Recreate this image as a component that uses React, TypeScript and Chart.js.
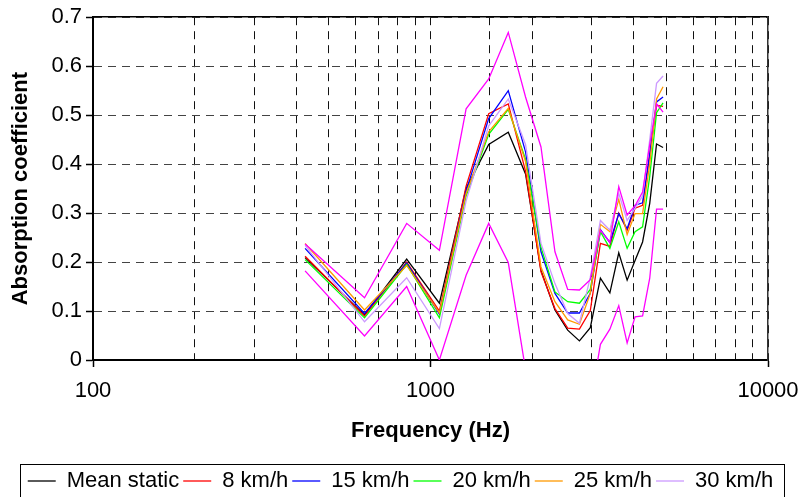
import React, { useEffect, useRef } from 'react';
import { Chart, registerables } from 'chart.js';

Chart.register(...registerables);

const FONT = 'Liberation Sans, Arial, Helvetica, sans-serif';

const frequencies = [425, 637.5, 850, 1062.5, 1275, 1487.5, 1700, 1912.5, 2125, 2337.5, 2550, 2762.5, 2975, 3187.5, 3400, 3612.5, 3825, 4037.5, 4250, 4462.5, 4675, 4887.5];

const meanStatic = [0.209, 0.092, 0.206, 0.116, 0.35, 0.44, 0.465, 0.38, 0.183, 0.102, 0.061, 0.039, 0.066, 0.167, 0.137, 0.219, 0.163, 0.203, 0.241, 0.32, 0.441, 0.434];
const kmh8 = [0.212, 0.09, 0.2, 0.1, 0.355, 0.503, 0.523, 0.385, 0.18, 0.105, 0.065, 0.063, 0.101, 0.238, 0.232, 0.3, 0.265, 0.31, 0.316, 0.42, 0.52, 0.518];
const kmh15 = [0.228, 0.095, 0.198, 0.094, 0.345, 0.493, 0.55, 0.425, 0.221, 0.136, 0.096, 0.096, 0.136, 0.266, 0.24, 0.299, 0.268, 0.316, 0.321, 0.42, 0.527, 0.537];
const kmh20 = [0.205, 0.086, 0.195, 0.086, 0.335, 0.461, 0.512, 0.41, 0.23, 0.139, 0.119, 0.116, 0.144, 0.262, 0.228, 0.282, 0.228, 0.262, 0.272, 0.375, 0.505, 0.525];
const kmh25 = [0.238, 0.102, 0.193, 0.096, 0.34, 0.466, 0.514, 0.405, 0.19, 0.119, 0.082, 0.073, 0.136, 0.277, 0.262, 0.328, 0.256, 0.299, 0.299, 0.4, 0.533, 0.558];
const kmh30 = [0.234, 0.078, 0.168, 0.064, 0.325, 0.478, 0.533, 0.44, 0.238, 0.156, 0.095, 0.075, 0.169, 0.285, 0.265, 0.34, 0.285, 0.31, 0.335, 0.45, 0.565, 0.58];
const upperBound = [0.237, 0.127, 0.279, 0.224, 0.513, 0.574, 0.669, 0.537, 0.435, 0.221, 0.144, 0.143, 0.164, 0.265, 0.24, 0.354, 0.296, 0.315, 0.343, 0.44, 0.523, 0.506];
const lowerBound = [0.182, 0.049, 0.15, 0.0, 0.173, 0.279, 0.199, -0.02, -0.1, -0.15, -0.15, -0.13, -0.09, 0.032, 0.063, 0.111, 0.035, 0.088, 0.09, 0.167, 0.308, 0.308];

const seriesNames = ['Mean static', '8 km/h', '15 km/h', '20 km/h', '25 km/h', '30 km/h', 'Upper', 'Lower'];
const seriesValues = [meanStatic, kmh8, kmh15, kmh20, kmh25, kmh30, upperBound, lowerBound];
const seriesColors = ['#000000', '#FF0000', '#0000FF', '#00FF00', '#FF9900', '#CC99FF', '#FF00FF', '#FF00FF'];

const xLabelTicks = [100, 1000, 10000];
const yMin = 0;
const yMax = 0.7;
const yStep = 0.1;

const legendBox = {
  id: 'legendBox',
  afterDraw(chart: any) {
    const lg = chart.legend;
    if (!lg || !lg.legendHitBoxes || !lg.legendHitBoxes.length) return;
    const hb = lg.legendHitBoxes;
    let l = Infinity;
    let r = -Infinity;
    hb.forEach((h: any) => {
      l = Math.min(l, h.left);
      r = Math.max(r, h.left + h.width);
    });
    const ctx = chart.ctx;
    ctx.save();
    ctx.strokeStyle = '#000';
    ctx.lineWidth = 1;
    ctx.strokeRect(Math.round(l - 8) + 0.5, Math.round(lg.top - 2) + 0.5, Math.round(r - l + 18), 40);
    ctx.restore();
  },
};

export default function App() {
  const ref = useRef<HTMLCanvasElement | null>(null);
  useEffect(() => {
    if (!ref.current) return;
    Chart.defaults.font.family = FONT;
    Chart.defaults.color = '#000';
    const datasets = seriesNames.map((name, i) => ({
      label: name,
      data: frequencies.map((f, j) => ({ x: f, y: seriesValues[i][j] })),
      borderColor: seriesColors[i],
      backgroundColor: seriesColors[i],
      borderWidth: 1.3,
      pointRadius: 0,
      pointHoverRadius: 0,
      tension: 0,
      fill: false,
      order: seriesNames.length - 1 - i,
      xAxisID: 'x',
      yAxisID: 'y',
    }));
    const isLabel = (v: number) => xLabelTicks.includes(v);
    const chart = new Chart(ref.current, {
      type: 'line',
      data: { datasets },
      plugins: [legendBox],
      options: {
        animation: false,
        responsive: false,
        events: [],
        layout: { autoPadding: false, padding: { left: 0, right: 0, top: 0, bottom: -5 } },
        plugins: {
          tooltip: { enabled: false },
          legend: {
            position: 'bottom',
            labels: {
              usePointStyle: true,
              pointStyle: 'line',
              pointStyleWidth: 28,
              padding: 4,
              color: '#000',
              font: { size: 22, family: FONT },
              filter: (item: any) => item.datasetIndex < 6,
              sort: (a: any, b: any) => a.datasetIndex - b.datasetIndex,
            },
          },
        },
        scales: {
          x: {
            type: 'logarithmic',
            position: 'bottom',
            min: 100,
            max: 10000,
            afterFit: (s: any) => { s.height = 106; },
            ticks: {
              autoSkip: false,
              maxRotation: 0,
              padding: 1,
              color: '#000',
              font: { size: 22, family: FONT, lineHeight: 2.1 },
              callback: (v: any) => (isLabel(Number(v)) ? String(v) : ''),
            },
            grid: {
              color: '#111',
              lineWidth: 1,
              drawTicks: true,
              tickLength: 7,
              tickWidth: 1.5,
              tickColor: (c: any) => (c.tick && isLabel(c.tick.value) ? '#000' : 'rgba(0,0,0,0)'),
              tickBorderDash: [],
            },
            border: { display: true, color: '#000', width: 2, dash: [8, 6] },
            title: {
              display: true,
              text: 'Frequency (Hz)',
              color: '#000',
              font: { size: 22, weight: 'bold', family: FONT },
              padding: { top: 0, bottom: 22 },
            },
          },
          xTop: {
            type: 'linear',
            position: 'top',
            afterFit: (s: any) => { s.height = 17; },
            ticks: { display: false },
            grid: { display: true, drawOnChartArea: false, drawTicks: false },
            border: { display: true, color: '#000', width: 1.5 },
          },
          y: {
            type: 'linear',
            position: 'left',
            min: yMin,
            max: yMax,
            afterFit: (s: any) => { s.width = 93; },
            ticks: {
              stepSize: yStep,
              padding: 4,
              color: '#000',
              font: { size: 22, family: FONT },
            },
            grid: {
              color: '#444',
              lineWidth: 1,
              drawTicks: true,
              tickLength: 7,
              tickWidth: 1.5,
              tickColor: '#000',
              tickBorderDash: [],
            },
            border: { display: true, color: '#000', width: 2, dash: [8, 6] },
            title: {
              display: true,
              text: 'Absorption coefficient',
              color: '#000',
              font: { size: 22, weight: 'bold', family: FONT },
              padding: { top: 8, bottom: 0 },
            },
          },
          yRight: {
            type: 'linear',
            position: 'right',
            afterFit: (s: any) => { s.width = 33; },
            ticks: { display: false },
            grid: { display: true, drawOnChartArea: false, drawTicks: false },
            border: { display: true, color: '#333', width: 1.5 },
          },
        },
      } as any,
    });
    return () => chart.destroy();
  }, []);
  return (
    <div style={{ position: 'fixed', left: 0, top: 0, width: 801, height: 497, background: '#fff' }}>
      <canvas ref={ref} width={801} height={497} style={{ display: 'block' }} />
    </div>
  );
}
